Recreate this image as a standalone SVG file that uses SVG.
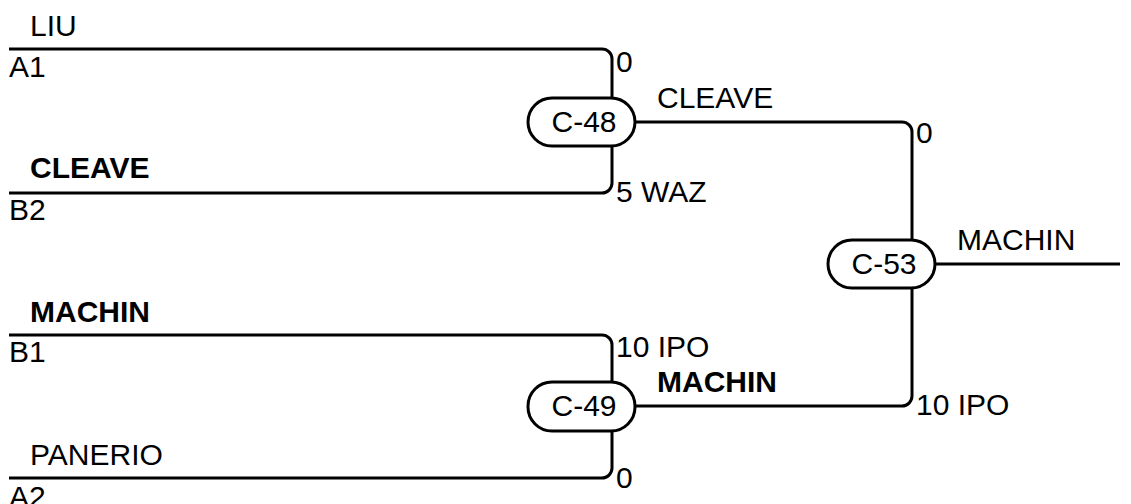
<svg xmlns="http://www.w3.org/2000/svg" width="1131" height="504" viewBox="0 0 1131 504">
<style>
text{font-family:"Liberation Sans",Arial,sans-serif;font-size:30px;fill:#000}
.b{font-weight:bold}
.m{text-anchor:middle}
.w{fill:none;stroke:#000;stroke-width:3}
.p{fill:#fff;stroke:#000;stroke-width:3}
</style>
<rect width="1131" height="504" fill="#fff"/>
<g id="connectors">
<path class="w" d="M9,49 H602 A10,10 0 0 1 612,59 V98"/>
<path class="w" d="M9,193 H602 A10,10 0 0 0 612,183 V146"/>
<path class="w" d="M9,335 H602 A10,10 0 0 1 612,345 V382"/>
<path class="w" d="M9,478 H602 A10,10 0 0 0 612,468 V431"/>
<path class="w" d="M635,122 H902 A10,10 0 0 1 912,132 V240"/>
<path class="w" d="M635,406 H902 A10,10 0 0 0 912,396 V288"/>
<path class="w" d="M935,264 H1120"/>
<text x="30" y="36">LIU</text>
<text x="9" y="77">A1</text>
<text x="30" y="178" class="b">CLEAVE</text>
<text x="9" y="220">B2</text>
<text x="30" y="322" class="b">MACHIN</text>
<text x="9" y="362">B1</text>
<text x="30" y="465">PANERIO</text>
<text x="9" y="507">A2</text>
<text x="616" y="72">0</text>
<text x="616" y="202">5 WAZ</text>
<text x="616" y="357">10 IPO</text>
<text x="616" y="488">0</text>
<text x="657" y="108">CLEAVE</text>
<text x="657" y="392" class="b">MACHIN</text>
<text x="916" y="143">0</text>
<text x="916" y="415">10 IPO</text>
<text x="957" y="250">MACHIN</text>
</g>
<g id="C-48">
<rect class="p" x="528" y="98" width="107" height="48" rx="24"/>
<text x="584" y="132" class="m">C-48</text>
</g>
<g id="C-49">
<rect class="p" x="528" y="382" width="107" height="49" rx="24"/>
<text x="584" y="416" class="m">C-49</text>
</g>
<g id="C-53">
<rect class="p" x="828" y="240" width="107" height="48" rx="24"/>
<text x="884" y="274" class="m">C-53</text>
</g>
</svg>
